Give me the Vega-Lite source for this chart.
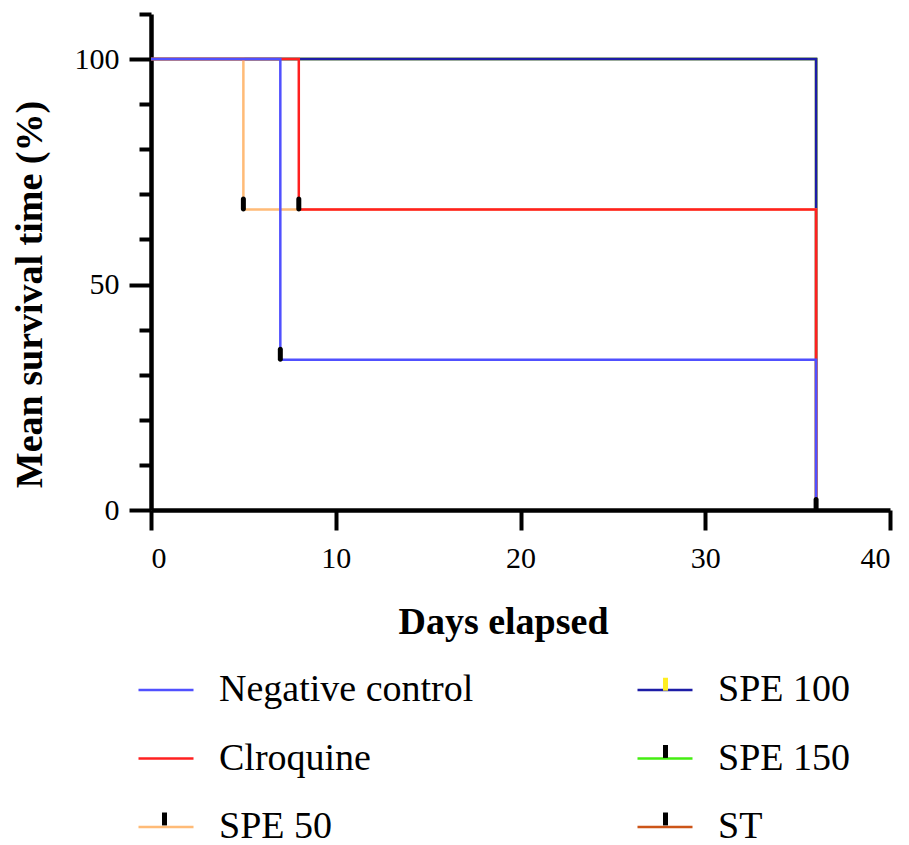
{
  "$schema": "https://vega.github.io/schema/vega-lite/v6.json",
  "width": 739,
  "height": 496,
  "autosize": {"type": "none"},
  "padding": {"left": 151, "top": 14, "right": 19, "bottom": 335},
  "background": "white",
  "config": {
    "view": {"stroke": null},
    "font": "Liberation Serif",
    "axis": {"labelFont": "Liberation Serif", "titleFont": "Liberation Serif", "labelColor": "black", "titleColor": "black", "domainColor": "black", "tickColor": "black", "grid": false},
    "legend": {"labelFont": "Liberation Serif", "labelColor": "black"}
  },
  "datasets": {
    "curves": [
      {"group": "ST", "day": 0, "pct": 100},
      {"group": "ST", "day": 36, "pct": 0},
      {"group": "SPE 150", "day": 0, "pct": 100},
      {"group": "SPE 150", "day": 36, "pct": 0},
      {"group": "SPE 100", "day": 0, "pct": 100},
      {"group": "SPE 100", "day": 36, "pct": 0},
      {"group": "SPE 50", "day": 0, "pct": 100},
      {"group": "SPE 50", "day": 5, "pct": 66.67},
      {"group": "SPE 50", "day": 36, "pct": 0},
      {"group": "Clroquine", "day": 0, "pct": 100},
      {"group": "Clroquine", "day": 8, "pct": 66.67},
      {"group": "Clroquine", "day": 36, "pct": 0},
      {"group": "Negative control", "day": 0, "pct": 100},
      {"group": "Negative control", "day": 7, "pct": 33.33},
      {"group": "Negative control", "day": 36, "pct": 0}
    ],
    "censored": [
      {"day": 5, "pct": 66.67},
      {"day": 8, "pct": 66.67},
      {"day": 7, "pct": 33.33},
      {"day": 36, "pct": 0}
    ],
    "groups": [
      {"series": "Negative control"},
      {"series": "Clroquine"},
      {"series": "SPE 50"},
      {"series": "SPE 100"},
      {"series": "SPE 150"},
      {"series": "ST"}
    ]
  },
  "layer": [
    {
      "data": {"name": "curves"},
      "mark": {"type": "line", "interpolate": "step-after", "strokeWidth": 2.5},
      "encoding": {
        "x": {
          "field": "day", "type": "quantitative",
          "scale": {"domain": [0, 40], "nice": false},
          "axis": {
            "values": [0, 10, 20, 30, 40],
            "title": "Days elapsed",
            "domainWidth": 4.5, "tickWidth": 4, "tickSize": 20,
            "labelFontSize": 30, "labelPadding": 13,
            "titleFontSize": 38, "titleFontWeight": "bold",
            "titleX": 352, "titleY": 123, "titleBaseline": "alphabetic"
          }
        },
        "y": {
          "field": "pct", "type": "quantitative",
          "scale": {"domain": [0, 110], "nice": false},
          "axis": {
            "values": [0, 5, 10, 15, 20, 25, 30, 35, 40, 45, 50, 55, 60, 65, 70, 75, 80, 85, 90, 95, 100, 105, 110],
            "labelExpr": "datum.value % 50 === 0 ? datum.label : ''",
            "labelOverlap": false,
            "tickSize": {"condition": {"test": "datum.value % 50 === 0", "value": 22}, "value": 12},
            "domainWidth": 4.5, "tickWidth": 4,
            "labelFontSize": 30, "labelPadding": 10,
            "title": "Mean survival time (%)",
            "titleFontSize": 38, "titleFontWeight": "bold",
            "titleX": -121, "titleY": 280, "titleBaseline": "middle", "titleAngle": 270
          }
        },
        "color": {
          "field": "group", "type": "nominal",
          "scale": {
            "domain": ["Negative control", "Clroquine", "SPE 50", "SPE 100", "SPE 150", "ST"],
            "range": ["#5050ff", "#ff2020", "#ffbb77", "#1c1ca6", "#44ee11", "#cc5518"]
          },
          "legend": {
            "title": null, "orient": "none", "legendX": -14, "legendY": 647,
            "columns": 2, "columnPadding": 158, "rowPadding": 20.5,
            "symbolType": "M-1,0H1", "symbolSize": 3025, "symbolStrokeWidth": 2.5,
            "labelFontSize": 38, "labelOffset": 24, "labelLimit": 500, "padding": 0
          }
        }
      }
    },
    {
      "data": {"name": "censored"},
      "mark": {"type": "tick", "orient": "vertical", "size": 15, "thickness": 5, "cornerRadius": 2.5, "color": "black", "opacity": 1, "yOffset": -5.5},
      "encoding": {
        "x": {"field": "day", "type": "quantitative"},
        "y": {"field": "pct", "type": "quantitative"}
      }
    },
    {
      "data": {"name": "groups"},
      "mark": {"type": "point", "filled": true, "opacity": 0},
      "encoding": {
        "fill": {
          "field": "series", "type": "nominal", "sort": null,
          "scale": {"range": ["transparent", "transparent", "black", "#ffee22", "black", "black"]},
          "legend": {
            "title": null, "orient": "none", "legendX": -14, "legendY": 647,
            "columns": 2, "columnPadding": 422, "rowPadding": 20.5,
            "symbolType": "M-0.09,-0.4H0.09V0.07H-0.09Z", "symbolSize": 3025, "symbolStrokeWidth": 0, "symbolOpacity": 1,
            "labelFontSize": 38, "labelOffset": 24, "labelLimit": 500, "labelExpr": "''", "padding": 0
          }
        }
      }
    }
  ]
}
